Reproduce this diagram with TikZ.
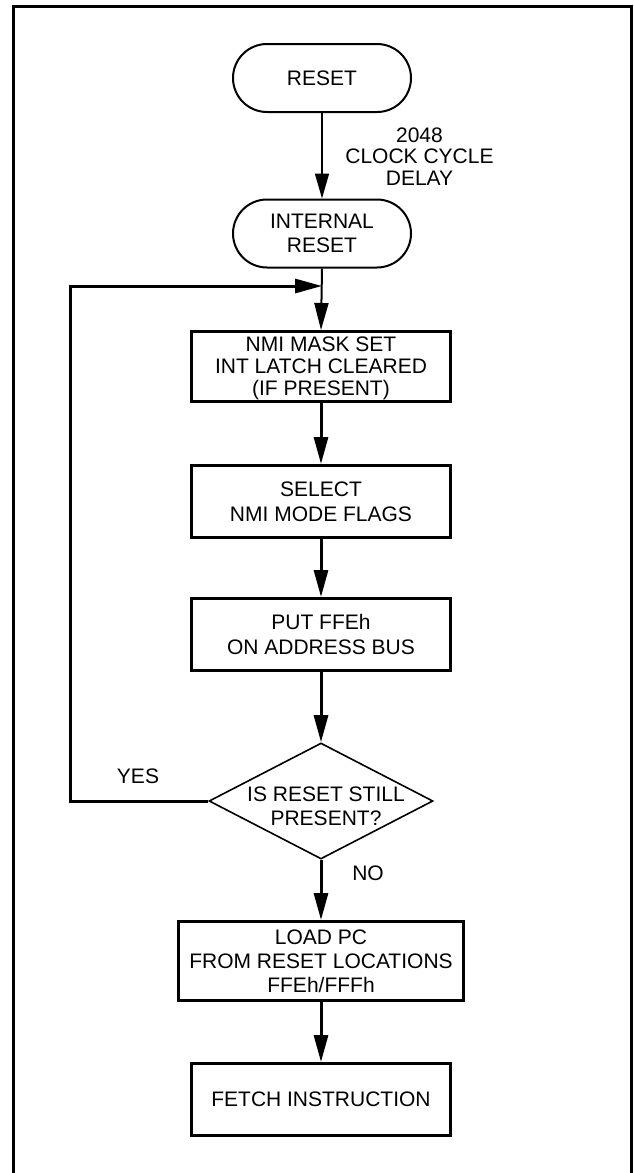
\documentclass[tikz,border=0pt]{standalone}
\usepackage{fontspec}
\setmainfont{Liberation Sans}
\usetikzlibrary{shapes.geometric,arrows.meta}
\begin{document}
\begin{tikzpicture}[x=1pt,y=-1pt,
  txt/.style={font=\fontsize{21}{24}\selectfont, align=center, inner sep=0pt},
  procbox/.style={draw, line width=3pt, minimum width=259pt, minimum height=72pt, txt},
  term/.style={draw, line width=2pt, rounded corners=34pt, minimum width=178pt, minimum height=68pt, txt},
  decision/.style={draw, diamond, line width=1.6pt, minimum width=224pt, minimum height=116pt, inner sep=0pt},
  flow/.style={line width=3pt, -{Triangle[length=27pt,width=14pt]}},
  thinflow/.style={line width=1.6pt, -{Triangle[length=25pt,width=14pt]}},
  frameline/.style={line width=3pt}
]
\useasboundingbox (0,0) rectangle (633,1173);
% frame
\draw[frameline] (13.5,1180) -- (13.5,6) -- (631.5,6) -- (631.5,1180);
% nodes
\node[term] (reset) at (322,78) {RESET};
\node[term] (ireset) at (322,233.5) {INTERNAL\\RESET};
\node[procbox, minimum height=70pt, text depth=0pt, font=\fontsize{21}{22}\selectfont] (nmi) at (321,366.5) {NMI MASK SET\\INT LATCH CLEARED\\(IF PRESENT)};
\node[procbox, font=\fontsize{21}{25}\selectfont] (sel) at (321,501.5) {SELECT\\NMI MODE FLAGS};
\node[procbox, font=\fontsize{21}{25}\selectfont] (put) at (321,634.5) {PUT FFEh\\ON ADDRESS BUS};
\node[decision] (dec) at (321,801) {};
\node[txt] (dectxt) at (326,806) {IS RESET STILL\\PRESENT?};
\node[procbox, minimum width=285pt, minimum height=79pt] (load) at (321,961) {LOAD PC\\FROM RESET LOCATIONS\\FFEh/FFFh};
\node[procbox] (fetch) at (321,1099.5) {FETCH INSTRUCTION};
% labels
\node[txt, font=\fontsize{21}{21.5}\selectfont] (delay) at (419.5,156.5) {2048\\CLOCK CYCLE\\DELAY};
\node[txt] (yes) at (138,776) {YES};
\node[txt] (no) at (368,873) {NO};
% loop coordinates
\coordinate (lpA) at (70,801);
\coordinate (lpB) at (70,286);
\coordinate (join) at (322,286);
% connectors
\draw[thinflow] (reset.south) -- (ireset.north);
\draw[flow, line width=2pt] (ireset.south) -- (nmi.north);
\draw[flow] (nmi.south) -- (sel.north);
\draw[flow] (sel.south) -- (put.north);
\draw[flow] (put.south) -- (dec.north);
\draw[flow] (dec.south) -- (load.north);
\draw[flow] (load.south) -- (fetch.north);
\draw[flow] (dec.west) -- (lpA) -- (lpB) -- (join);
\end{tikzpicture}
\end{document}
